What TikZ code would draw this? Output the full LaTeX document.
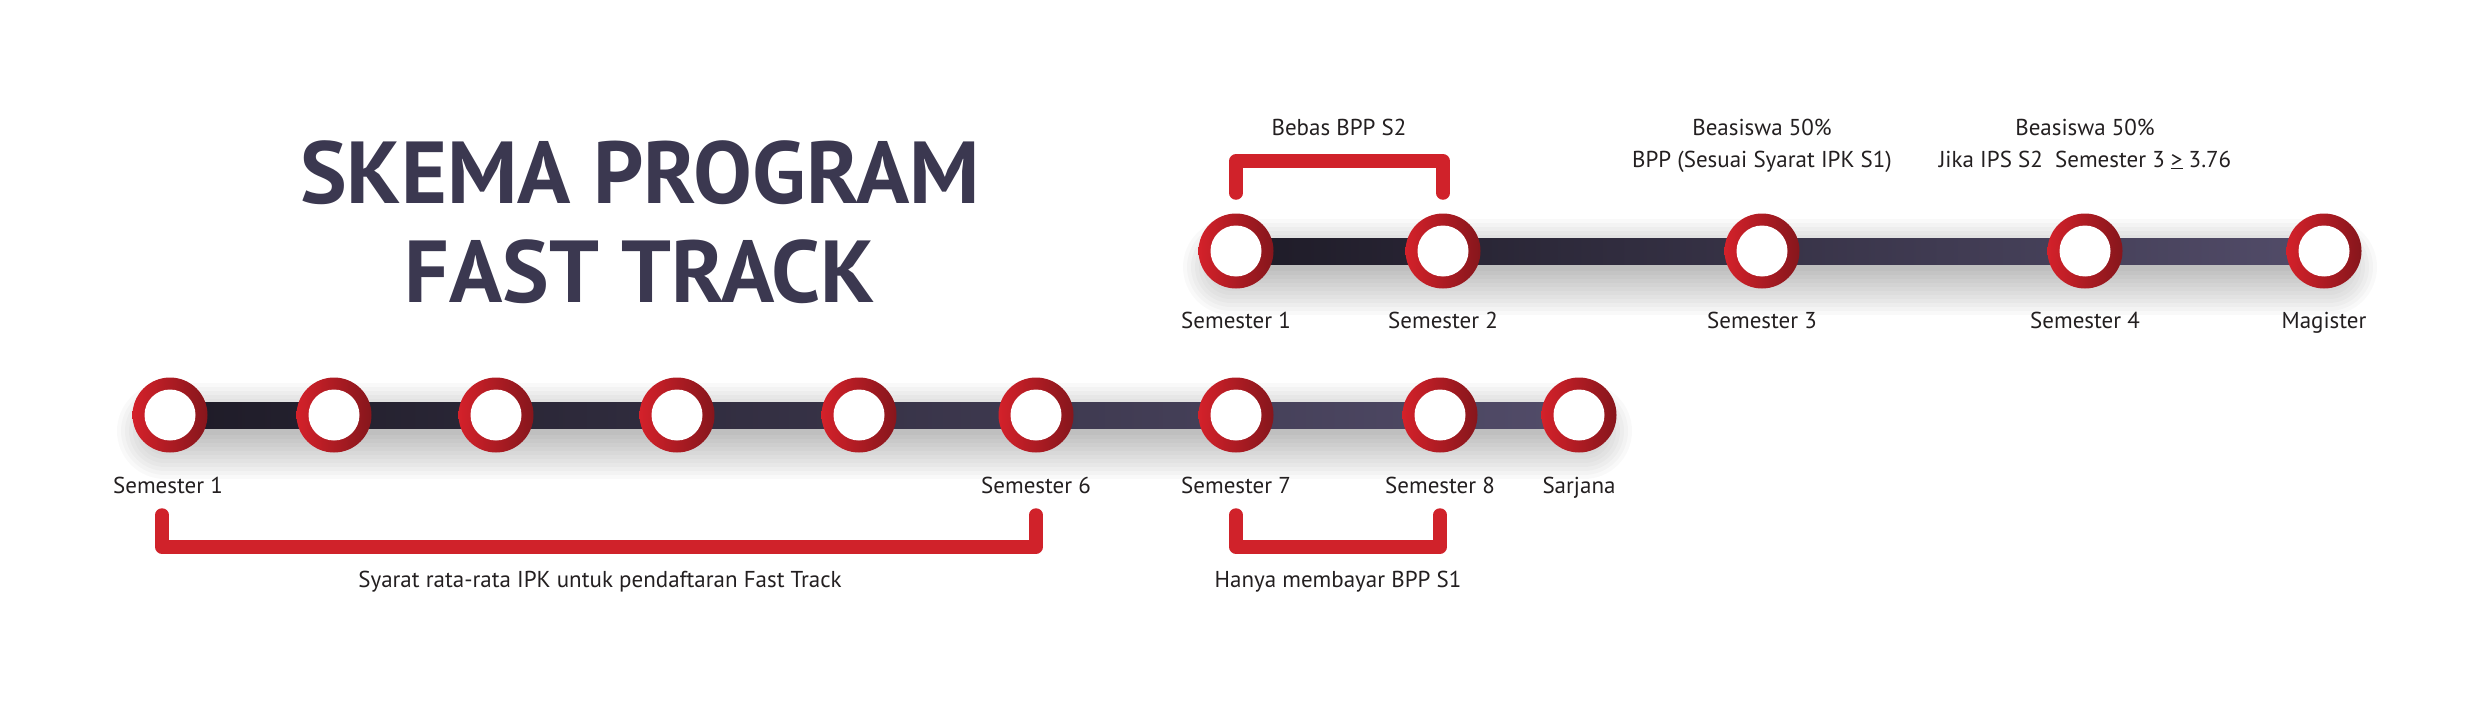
\documentclass[tikz,border=0pt]{standalone}
\usepackage{fontspec}
\setmainfont{PT Sans}
\usetikzlibrary{calc,backgrounds}
\definecolor{ringL}{HTML}{D4212A}
\definecolor{ringR}{HTML}{86161C}
\definecolor{brk}{HTML}{D0222A}
\definecolor{ttl}{HTML}{3B3850}
\definecolor{txt}{HTML}{231F20}
\definecolor{lnL}{HTML}{1E1B27}
\definecolor{lnM}{HTML}{211B3F}
\definecolor{lnR}{HTML}{524C69}
\begin{document}
\begin{tikzpicture}[x=1pt,y=-1pt,
  station/.style={circle, minimum size=75pt, inner sep=0pt, left color=ringL, right color=ringR,
    path picture={\fill[white] (path picture bounding box.center) circle (25.5pt);}},
  lbl/.style={anchor=base, text=txt, font=\fontsize{23}{28}\selectfont, inner sep=0pt},
  ttlstyle/.style={anchor=base, text=ttl, font=\fontsize{88}{100}\selectfont\bfseries, inner sep=0pt},
  bracket/.style={draw=brk, line width=13.5pt, line cap=round, line join=round},
  railshadow/.style={black, opacity=0.024, line cap=round},
]
\useasboundingbox (0,0) rectangle (2481,709);

% title
\node[ttlstyle] (t1) at (640,203) {SKEMA PROGRAM};
\node[ttlstyle] (t2) at (640,302) {FAST TRACK};

% upper stations
\node[station] (u1) at (1236,251) {};
\node[station] (u2) at (1443,251) {};
\node[station] (u3) at (1762,251) {};
\node[station] (u4) at (2085,251) {};
\node[station] (u5) at (2324,251) {};

% lower stations
\node[station] (l1) at (170,415) {};
\node[station] (l2) at (334,415) {};
\node[station] (l3) at (496,415) {};
\node[station] (l4) at (677,415) {};
\node[station] (l5) at (859,415) {};
\node[station] (l6) at (1036,415) {};
\node[station] (l7) at (1236,415) {};
\node[station] (l8) at (1440,415) {};
\node[station] (l9) at (1579,415) {};

\begin{scope}[on background layer]
  \foreach \w in {96,88,...,8} {
    \draw[railshadow, line width=\w pt] ($(u1.center)+(-5,16)$) -- ($(u5.center)+(5,16)$);
    \draw[railshadow, line width=\w pt] ($(l1.center)+(-5,16)$) -- ($(l9.center)+(5,16)$);
  }
  \shade[left color=lnL, middle color=lnM, right color=lnR] ($(u1.center)+(0,-13)$) rectangle ($(u5.center)+(0,13)$);
  \shade[left color=lnL, middle color=lnM, right color=lnR] ($(l1.center)+(0,-13)$) rectangle ($(l9.center)+(0,13)$);
\end{scope}

% station labels upper
\node[lbl] (su1) at (1236,328) {Semester 1};
\node[lbl] (su2) at (1443,328) {Semester 2};
\node[lbl] (su3) at (1762,328) {Semester 3};
\node[lbl] (su4) at (2085,328) {Semester 4};
\node[lbl] (su5) at (2324,328) {Magister};

% station labels lower
\node[lbl] (sl1) at (168,493) {Semester 1};
\node[lbl] (sl6) at (1036,493) {Semester 6};
\node[lbl] (sl7) at (1236,493) {Semester 7};
\node[lbl] (sl8) at (1440,493) {Semester 8};
\node[lbl] (sl9) at (1579,493) {Sarjana};

% upper notes
\node[lbl] (n1) at (1339,135) {Bebas BPP S2};
\node[lbl] (n2a) at (1762,135) {Beasiswa 50\%};
\node[lbl] (n2b) at (1762,167) {BPP (Sesuai Syarat IPK S1)};
\node[lbl] (n3a) at (2085,135) {Beasiswa 50\%};
\node[lbl] (n3b) at (2085,167) {Jika IPS S2\ \ Semester 3 \underline{>} 3.76};

% lower notes
\node[lbl] (n4) at (600,587) {Syarat rata-rata IPK untuk pendaftaran Fast Track};
\node[lbl] (n5) at (1338,587) {Hanya membayar BPP S1};

% brackets
\draw[bracket] ($(u1.center)+(0,-58)$) -- ($(u1.center)+(0,-90)$) -- ($(u2.center)+(0,-90)$) -- ($(u2.center)+(0,-58)$);
\draw[bracket] ($(l1.center)+(-8,100)$) -- ($(l1.center)+(-8,132)$) -- ($(l6.center)+(0,132)$) -- ($(l6.center)+(0,100)$);
\draw[bracket] ($(l7.center)+(0,100)$) -- ($(l7.center)+(0,132)$) -- ($(l8.center)+(0,132)$) -- ($(l8.center)+(0,100)$);
\end{tikzpicture}
\end{document}
